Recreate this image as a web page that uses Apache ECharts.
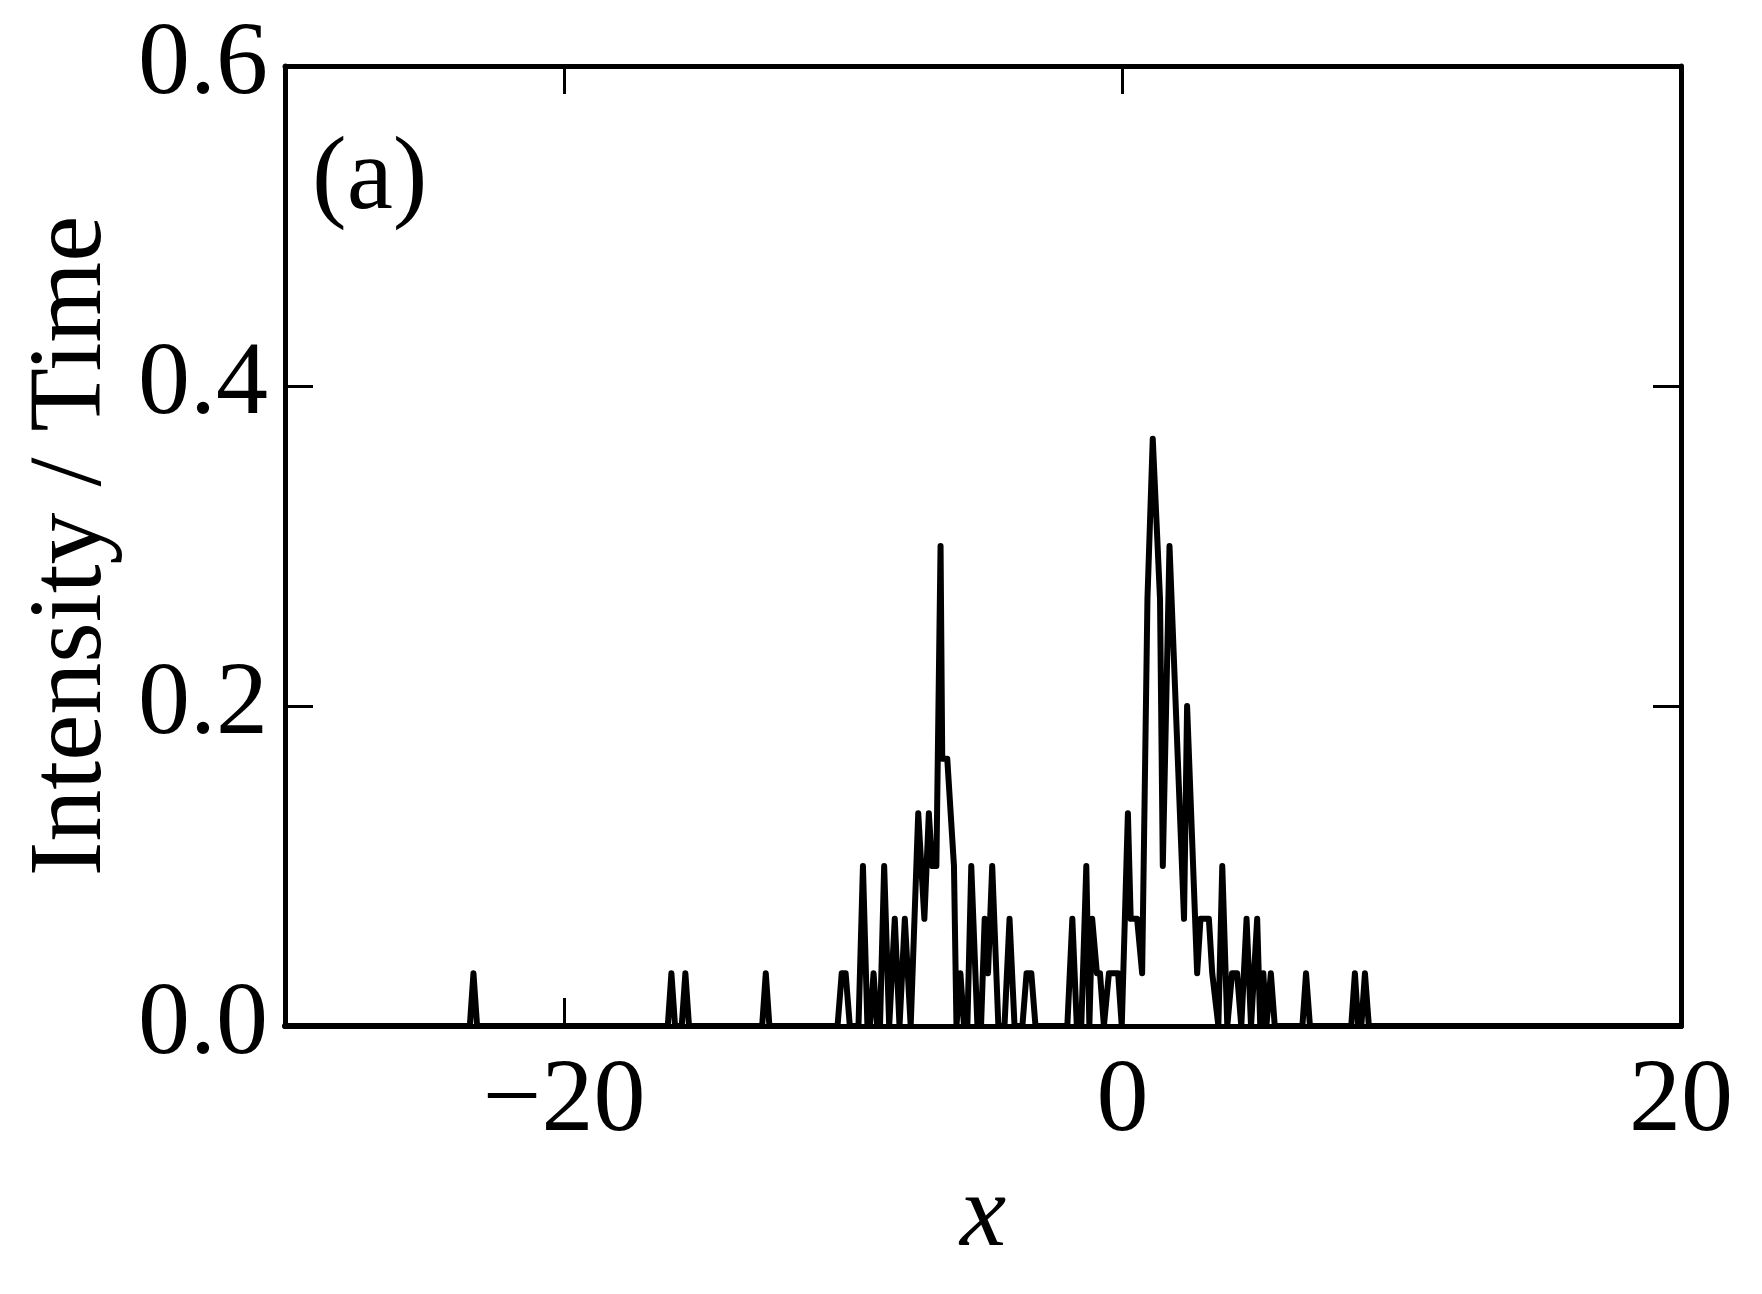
<!DOCTYPE html>
<html>
<head>
<meta charset="utf-8">
<script src="https://cdn.jsdelivr.net/npm/echarts@6/dist/echarts.min.js"></script>
<style>
  html, body { margin: 0; padding: 0; background: #fff; }
  #chart { width: 1762px; height: 1294px; }
</style>
</head>
<body>
<div id="chart"></div>
<script>
// ---- data ----
const xPositions = [
  -30, -23.38, -23.25, -23.12, -16.29, -16.16, -16.03, -15.79, -15.66, -15.53,
  -12.91, -12.78, -12.65, -10.21, -10.06, -9.92, -9.77, -9.46, -9.30, -9.14,
  -9.05, -8.92, -8.79, -8.69, -8.54, -8.36, -8.16, -7.99, -7.80, -7.59,
  -7.53, -7.32, -7.10, -6.94, -6.82, -6.67, -6.52, -6.46, -6.28, -6.04,
  -5.95, -5.81, -5.68, -5.56, -5.42, -5.20, -5.07, -4.94, -4.82, -4.67,
  -4.45, -4.23, -4.05, -3.87, -3.59, -3.44, -3.27, -3.12, -1.98, -1.80,
  -1.64, -1.48, -1.30, -1.19, -1.09, -0.92, -0.81, -0.67, -0.49, -0.16,
  -0.03, 0.19, 0.29, 0.52, 0.70, 0.89, 1.08, 1.34, 1.44, 1.68,
  2.20, 2.31, 2.67, 2.79, 3.09, 3.21, 3.43, 3.57, 3.75, 3.92,
  4.10, 4.25, 4.44, 4.60, 4.82, 4.93, 5.04, 5.15, 5.31, 5.45,
  6.44, 6.57, 6.71, 8.19, 8.32, 8.44, 8.55, 8.68, 8.82, 20
];
const intensity = [
  0, 0, 0.033, 0, 0, 0.033, 0, 0, 0.033, 0,
  0, 0.033, 0, 0, 0.033, 0.033, 0, 0, 0.1, 0,
  0, 0.033, 0, 0, 0.1, 0, 0.067, 0, 0.067, 0,
  0, 0.133, 0.067, 0.133, 0.1, 0.1, 0.3, 0.167, 0.167, 0.1,
  0, 0.033, 0, 0, 0.1, 0, 0, 0.067, 0.033, 0.1,
  0, 0, 0.067, 0, 0, 0.033, 0.033, 0, 0, 0.067,
  0, 0, 0.1, 0, 0.067, 0.033, 0.033, 0, 0.033, 0.033,
  0, 0.133, 0.067, 0.067, 0.033, 0.267, 0.367, 0.267, 0.1, 0.3,
  0.067, 0.2, 0.033, 0.067, 0.067, 0.033, 0, 0.1, 0, 0.033,
  0.033, 0, 0.067, 0, 0.067, 0, 0.033, 0, 0.033, 0,
  0, 0.033, 0, 0, 0.033, 0, 0, 0.033, 0, 0
];
const xTickValues = [-20, 0, 20];
const xTopTickValues = [-20, 0];
const yMin = 0, yMax = 0.6, yStep = 0.2;
const xMin = -30, xMax = 20;
const xTitle = 'x';
const yTitle = 'Intensity / Time';
const panelLabel = '(a)';

// ---- chart ----
const FONT = '"Liberation Serif", "Times New Roman", serif';
const FS = 104;
const chart = echarts.init(document.getElementById('chart'), null, { renderer: 'canvas' });

const axisLine = { show: true, onZero: false, lineStyle: { color: '#000', width: 5 } };
const tickStyle = { color: '#000', width: 3 };

chart.setOption({
  animation: false,
  backgroundColor: '#fff',
  grid: { left: 285, right: 81, top: 66, bottom: 268, containLabel: false },
  xAxis: [
    {
      type: 'value', min: xMin, max: xMax, position: 'bottom',
      axisLine: axisLine,
      axisTick: { show: true, inside: true, length: 28, lineStyle: tickStyle, customValues: xTickValues },
      axisLabel: {
        show: true, customValues: xTickValues, margin: 25,
        fontFamily: FONT, fontSize: FS, color: '#000',
        formatter: v => (v < 0 ? '\u2212' + Math.abs(v) : String(v))
      },
      splitLine: { show: false },
      name: xTitle, nameLocation: 'middle', nameGap: 140,
      nameTextStyle: { fontFamily: FONT, fontSize: FS, fontStyle: 'italic', color: '#000' }
    },
    {
      type: 'value', min: xMin, max: xMax, position: 'top',
      axisLine: axisLine,
      axisTick: { show: true, inside: true, length: 28, lineStyle: tickStyle, customValues: xTopTickValues },
      axisLabel: { show: false },
      splitLine: { show: false }
    }
  ],
  yAxis: [
    {
      type: 'value', min: yMin, max: yMax, interval: yStep, position: 'left',
      axisLine: axisLine,
      axisTick: { show: true, inside: true, length: 28, lineStyle: tickStyle },
      axisLabel: {
        show: true, margin: 17,
        fontFamily: FONT, fontSize: FS, color: '#000',
        formatter: v => v.toFixed(1)
      },
      splitLine: { show: false },
      name: yTitle, nameLocation: 'middle', nameGap: 160, nameRotate: 90,
      nameTextStyle: { fontFamily: FONT, fontSize: FS, color: '#000' }
    },
    {
      type: 'value', min: yMin, max: yMax, interval: yStep, position: 'right',
      axisLine: axisLine,
      axisTick: { show: true, inside: true, length: 28, lineStyle: tickStyle },
      axisLabel: { show: false },
      splitLine: { show: false }
    }
  ],
  graphic: [
    {
      type: 'text', left: 312, top: 129,
      style: { text: panelLabel, font: FS + 'px ' + FONT, fill: '#000' }
    }
  ],
  series: [
    {
      type: 'line',
      xAxisIndex: 0, yAxisIndex: 0,
      data: xPositions.map((x, i) => [x, intensity[i]]),
      showSymbol: false,
      symbol: 'none',
      clip: false,
      lineStyle: { color: '#000', width: 6, join: 'round', cap: 'round' }
    }
  ]
});
</script>
</body>
</html>
